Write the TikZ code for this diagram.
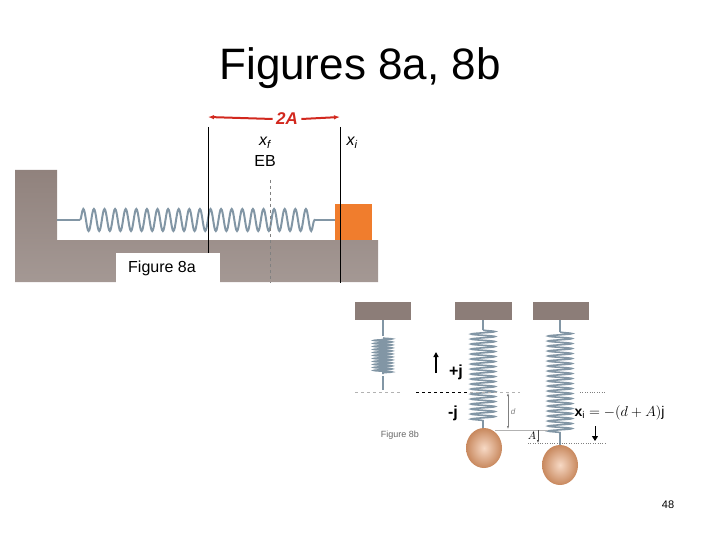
\documentclass[tikz,border=0pt]{standalone}
\usepackage{fontspec}
\setmainfont{Liberation Sans}
\usetikzlibrary{decorations.pathmorphing,arrows.meta}
\definecolor{ground}{RGB}{125,108,102}
\definecolor{ceil}{RGB}{140,125,120}
\definecolor{steel}{RGB}{130,150,165}
\definecolor{blockor}{RGB}{240,125,45}
\definecolor{ball}{RGB}{235,160,110}
\definecolor{redA}{RGB}{210,40,30}
\tikzset{
 coilh/.style={draw=steel,line width=2pt,decorate,decoration={snake,segment length=10.6pt,amplitude=11pt}},
 coilv/.style={draw=steel,line width=1.6pt,decorate,decoration={snake,segment length=5pt,amplitude=12pt}},
 rod/.style={draw=steel,line width=1.8pt},
 ceilbox/.style={fill=ceil},
 ballsh/.style={inner color=ball!40!white,outer color=ball!85!black},
 lbl/.style={inner sep=1pt,font=\fontsize{16}{18}\selectfont},
 guide/.style={gray!60,dashed,line width=0.6pt},
}
\begin{document}
\begin{tikzpicture}[x=1pt,y=-1pt]
\useasboundingbox (0,0) rectangle (720,540);
\node[font=\fontsize{44}{52}\selectfont] (title) at (360,68) {Figures 8a, 8b};
% Figure 8a
\shade[top color=ground!85,bottom color=ground!70] (15,170) -- (57,170) -- (57,240) -- (378,240) -- (378,282) -- (15,282) -- cycle;
\fill[blockor] (335,204) rectangle (372,240);
\draw[rod] (57,220) -- (80,220);
\draw[rod] (335,220) -- (315,220);
\draw[coilh] (80,220) -- (315,220);
\draw[black,line width=0.6pt] (208,127) -- (208,283);
\draw[black,line width=0.6pt] (340,127) -- (340,283);
\draw[gray,dashed,line width=0.8pt] (270,180) -- (270,283);
\node[font=\bfseries\itshape\fontsize{17}{19}\selectfont,text=redA] (twoA) at (287,119) {2A};
\draw[redA,line width=2pt,-{Latex[length=6pt]}] (twoA.west) -- (208,117);
\draw[redA,line width=2pt,-{Latex[length=6pt]}] (twoA.east) -- (340,117);
\node[lbl,font=\itshape\fontsize{16}{18}\selectfont] (xf) at (265,143) {x\textsubscript{\itshape f}};
\node[lbl] (eb) at (265,161) {EB};
\node[lbl,font=\itshape\fontsize{16}{18}\selectfont] (xi) at (352,143) {x\textsubscript{\itshape i}};
\fill[white] (116,253) rectangle (220,283);
\node[lbl] (f8a) at (162,268) {Figure 8a};
% Figure 8b
\fill[ceilbox] (355,302) rectangle (411,320);
\fill[ceilbox] (455,302) rectangle (512,320);
\fill[ceilbox] (533,302) rectangle (589,320);
\draw[rod] (383,320) -- (383,390);
\fill[white] (374,336) rectangle (392,376);
\draw[coilv,decoration={snake,segment length=3pt,amplitude=9pt}] (383,338) -- (383,374);
\draw[rod] (483,320) -- (483,330);
\draw[coilv] (483,330) -- (483,422);
\draw[rod] (483,422) -- (483,432);
\shade[ballsh] (484,448) ellipse (18 and 20);
\draw[rod] (560,320) -- (560,332);
\draw[coilv] (560,332) -- (560,434);
\draw[rod] (560,434) -- (560,445);
\shade[ballsh] (560,465) ellipse (18 and 20);
\draw[guide] (355,392) -- (400,392);
\draw[black,dashed,line width=0.8pt] (416,392) -- (470,392);
\draw[guide] (470,392) -- (520,392);
\draw[gray,dotted] (580,392) -- (605,392);
\draw[gray!60,line width=0.8pt] (495,430) -- (548,430);
\draw[gray,dotted] (528,443) -- (605,443);
\draw[line width=1.5pt,-{Triangle[length=5pt,width=5pt]}] (436,373) -- (436,352);
\node[font=\bfseries\fontsize{16}{18}\selectfont] (pj) at (456,372) {+j};
\node[font=\bfseries\fontsize{16}{18}\selectfont] (mj) at (453,413) {-j};
\node[font=\fontsize{9}{11}\selectfont,text=gray!80!black] (f8b) at (400,435) {Figure 8b};
\draw[gray,line width=0.5pt,{Latex[length=3pt]}-{Latex[length=3pt]}] (508,393) -- (508,429);
\node[font=\itshape\fontsize{8}{10}\selectfont,text=gray] (d) at (513,412) {d};
\draw[gray!60!black,line width=0.5pt,-{Latex[length=3pt]}] (538,430) -- (538,443);
\node[font=\fontsize{11}{12}\selectfont] (A) at (532,436) {$A$};
\node[font=\fontsize{14}{16}\selectfont,anchor=west] (form) at (571,413) {$\mathbf{x}_{\mathrm{i}}=-\bigl(d+A\bigr)\mathrm{j}$};
\draw[line width=1pt,-{Triangle[length=5pt,width=6pt]}] (595,426) -- (595,441);
\node[font=\fontsize{11}{13}\selectfont] (pg) at (668,505) {48};
\end{tikzpicture}
\end{document}
